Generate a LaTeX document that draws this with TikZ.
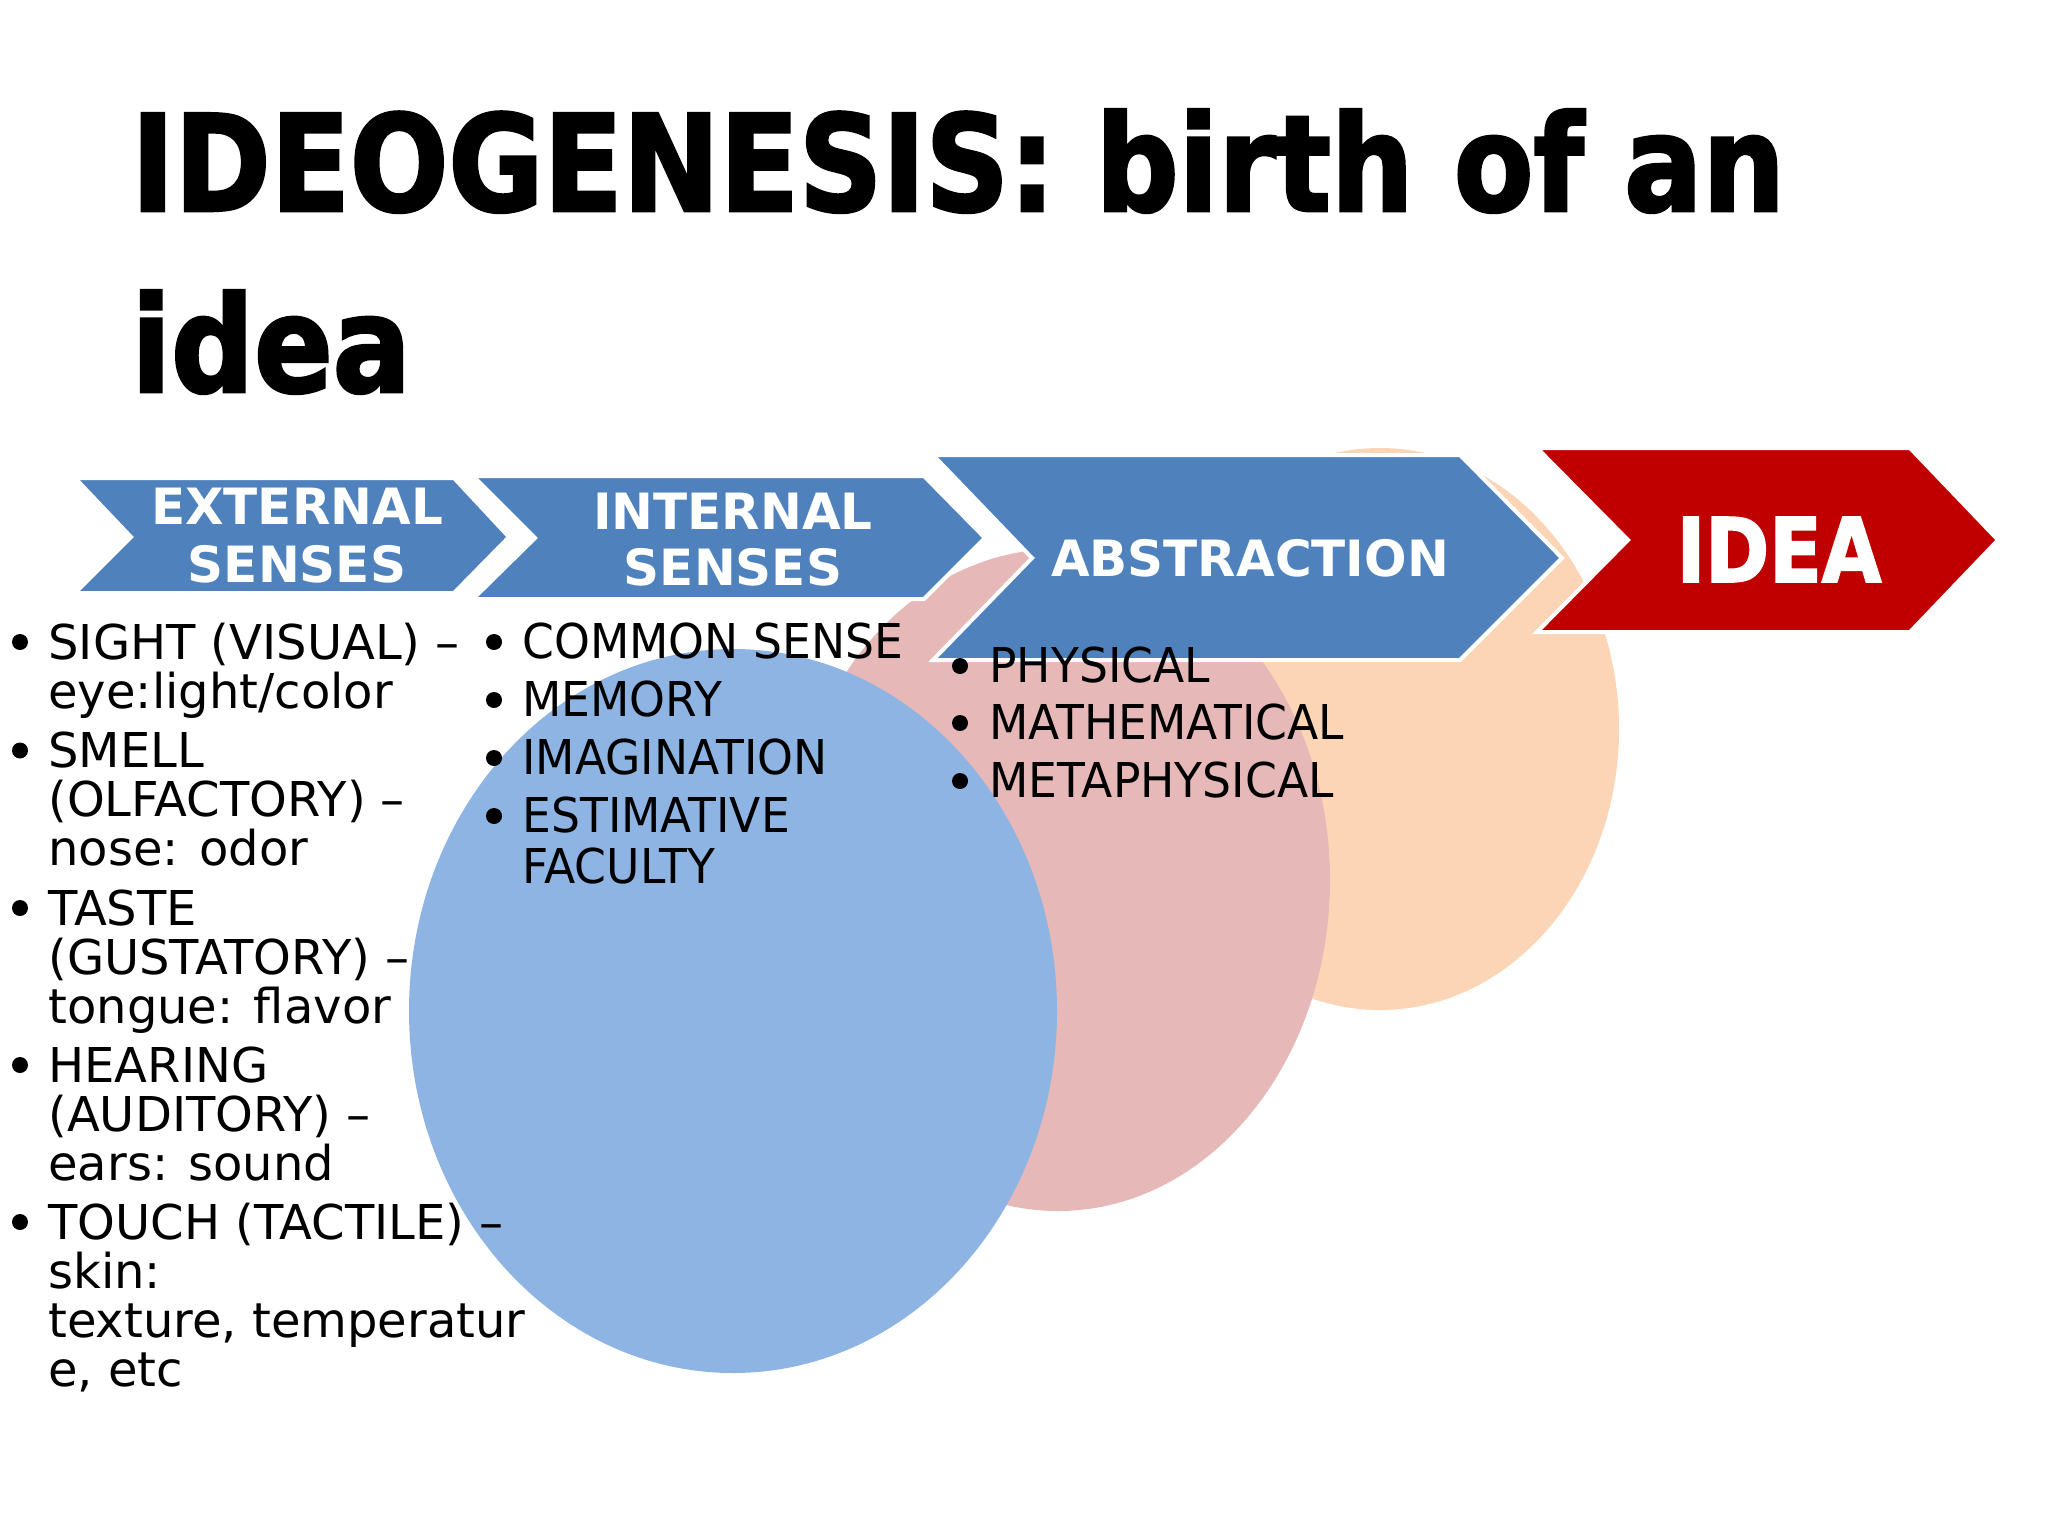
\documentclass[tikz,border=0pt]{standalone}
\usepackage{fontspec}
\setmainfont{DejaVu Sans}
\newfontfamily\titlefont{DejaVu Sans}[FakeStretch=0.865,FakeBold=2]
\newfontfamily\narrowfont{DejaVu Sans}[FakeStretch=0.95]
\definecolor{chevblue}{HTML}{4F81BD}
\definecolor{ideared}{HTML}{C00000}
\definecolor{ovalblue}{HTML}{8EB4E3}
\definecolor{ovalpink}{HTML}{E6B9B8}
\definecolor{ovalpeach}{HTML}{FBD5B5}
\tikzset{
  chevron/.style={draw=white,line width=2pt,line join=miter,fill=#1},
  headtext/.style={anchor=base,inner sep=0,text=white,font=\fontsize{25}{25}\selectfont\bfseries},
  titletext/.style={anchor=base west,inner sep=0,font=\titlefont\bfseries\fontsize{67}{67}\selectfont},
  senseline/.style={anchor=base west,inner sep=0,font=\fontsize{24}{24}\selectfont},
  narrowline/.style={anchor=base west,inner sep=0,font=\narrowfont\fontsize{24}{24}\selectfont},
  dot/.style={circle,fill=black,inner sep=0,minimum size=8pt}
}

\begin{document}
\begin{tikzpicture}[x=0.5pt,y=-0.5pt]
  \fill[white] (0,0) rectangle (2048,1536);
  \useasboundingbox (0,0) rectangle (2048,1536);
  % title
  \node[titletext] (title1) at (131,211) {IDEOGENESIS: birth of an};
  \node[titletext] (title2) at (131,392) {idea};
  % ovals behind the arrows
  \fill[ovalpeach] (1380,729) ellipse (239 and 281);
  \fill[ovalpink] (1058,880) ellipse (272 and 331);
  \fill[ovalblue] (733,1011) ellipse (324 and 362);
  % chevrons
  \draw[chevron=chevblue] (75,478)--(454,478)--(509,537)--(454,593)--(75,593)--(131,537)--cycle;
  \draw[chevron=chevblue] (473,476)--(924,476)--(985,538)--(924,599)--(473,599)--(535,538)--cycle;
  \draw[chevron=chevblue] (933,455)--(1460,455)--(1562,558)--(1460,660)--(933,660)--(1032,558)--cycle;
  \draw[chevron=ideared] (1537,448)--(1910,448)--(1998,540)--(1910,632)--(1537,632)--(1628,540)--cycle;
  \node[headtext] (ext1) at (297,524) {EXTERNAL};
  \node[headtext] (ext2) at (297,582) {SENSES};
  \node[headtext] (int1) at (733,529) {INTERNAL};
  \node[headtext] (int2) at (733,585) {SENSES};
  \node[headtext] (abs) at (1250,576) {ABSTRACTION};
  \node[headtext,font=\titlefont\bfseries\fontsize{44.5}{44.5}\selectfont] (idea) at (1779,582) {IDEA};
  % external senses
  \foreach \y/\t [count=\i] in {659/{SIGHT (VISUAL) –},708/{eye:light/color},
      767.5/{SMELL},816.5/{(OLFACTORY) –},865.5/{nose: odor},
      925/{TASTE},974/{(GUSTATORY) –},1023/{tongue: flavor},
      1082/{HEARING},1131/{(AUDITORY) –},1180/{ears: sound},
      1239/{TOUCH (TACTILE) –},1288/{skin:},1337/{texture, temperatur},1386/{e, etc}}
    \node[senseline] (sense\i) at (48,\y) {\t};
  \foreach \y [count=\i] in {659,767.5,925,1082,1239}
    \node[dot] (sdot\i) at (20,\y-17) {};
  % internal senses
  \foreach \y/\t [count=\i] in {658/{COMMON SENSE},716/{MEMORY},774/{IMAGINATION},
      832/{ESTIMATIVE},883/{FACULTY}}
    \node[narrowline] (inner\i) at (522,\y) {\t};
  \foreach \y [count=\i] in {658,716,774,832}
    \node[dot] (idot\i) at (494,\y-16) {};
  % abstraction
  \foreach \y/\t [count=\i] in {682/{PHYSICAL},739/{MATHEMATICAL},797/{METAPHYSICAL}}
    \node[narrowline] (abst\i) at (989,\y) {\t};
  \foreach \y [count=\i] in {682,739,797}
    \node[dot] (adot\i) at (960,\y-16) {};
\end{tikzpicture}
\end{document}
